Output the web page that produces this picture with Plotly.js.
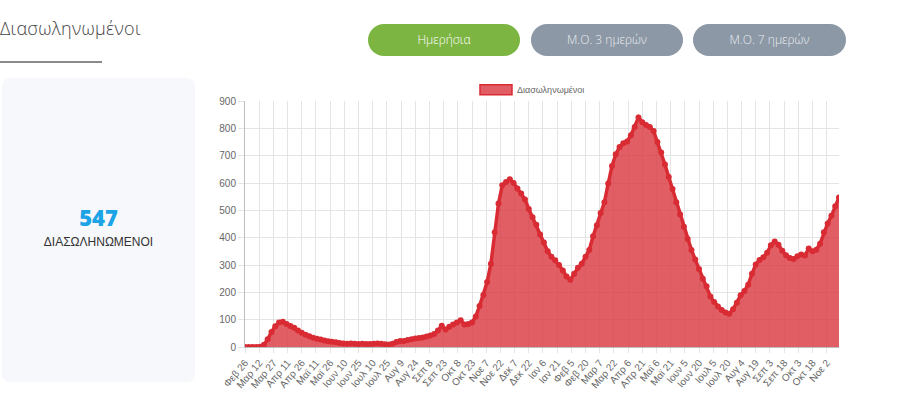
<!DOCTYPE html>
<html>
<head>
<meta charset="utf-8">
<script src="https://cdn.plot.ly/plotly-3.0.1.min.js"></script>
<style>
  html, body { margin: 0; padding: 0; background: #fff; width: 900px; height: 414px; overflow: hidden; }
  body { position: relative; font-family: "Open Sans", "Liberation Sans", sans-serif; }
  #title { position: absolute; left: 0; top: 16px; font-size: 18px; font-weight: 300; color: #444; letter-spacing: 0.3px; }
  #rule { position: absolute; left: 0; top: 61px; width: 102px; height: 2px; background: #8a8a8a; }
  .btn { position: absolute; top: 24px; height: 32px; border-radius: 16px; color: #fff; font-size: 12px; line-height: 32px; text-align: center; font-family: "Open Sans", sans-serif; font-weight: 300; }
  #b1 { left: 368px; width: 152px; background: #7db543; }
  #b2 { left: 531px; width: 152px; background: #8c98a5; color: #e9edf1; }
  #b3 { left: 693px; width: 153px; background: #8c98a5; color: #e9edf1; }
  #card { position: absolute; left: 2px; top: 78px; width: 193px; height: 304px; background: #f6f8fc; border-radius: 8px; }
  #num { position: absolute; left: 2px; width: 193px; top: 202px; text-align: center; font-size: 22px; font-weight: 800; color: #1ca4e6; font-family: "Open Sans", sans-serif; }
  #lbl { position: absolute; left: 2px; width: 193px; top: 235px; text-align: center; font-size: 12px; color: #333; font-family: "Liberation Sans", Arial, sans-serif; }
  #chart { position: absolute; left: 200px; top: 75px; width: 700px; height: 339px; }
</style>
</head>
<body>
<div id="title">Διασωληνωμένοι</div>
<div id="rule"></div>
<div class="btn" id="b1">Ημερήσια</div>
<div class="btn" id="b2">Μ.Ο. 3 ημερών</div>
<div class="btn" id="b3">Μ.Ο. 7 ημερών</div>
<div id="card"></div>
<div id="num">547</div>
<div id="lbl">ΔΙΑΣΩΛΗΝΩΜΕΝΟΙ</div>
<div id="chart"></div>
<script>
// Data: intubated patients, one reading every 4 days starting 26 Feb 2020 (day 0) to 15 Nov 2021 (day 628)
const seriesName = "Διασωληνωμένοι";
const startDay = 0;
const stepDays = 4;
const intubated = [
  0, 0, 0, 0, 1, 8, 28, 55, 76, 90,
  92, 84, 77, 70, 60, 52, 45, 39, 34, 30,
  27, 24, 21, 19, 17, 15, 13, 12, 13, 12,
  11, 12, 11, 11, 12, 13, 12, 10, 9, 12,
  18, 22, 22, 26, 28, 31, 33, 35, 38, 42,
  48, 60, 78, 64, 74, 82, 90, 98, 82, 84,
  90, 112, 150, 190, 238, 305, 420, 525, 592, 604,
  614, 600, 580, 562, 540, 505, 475, 447, 412, 382,
  350, 330, 317, 300, 280, 258, 246, 268, 290, 305,
  330, 355, 405, 445, 490, 530, 598, 662, 705, 732,
  745, 752, 775, 805, 840, 822, 812, 805, 790, 750,
  712, 668, 622, 578, 530, 485, 440, 395, 355, 320,
  285, 250, 222, 185, 165, 148, 135, 126, 122, 138,
  162, 189, 205, 228, 268, 302, 318, 328, 345, 372,
  386, 374, 352, 336, 326, 322, 332, 338, 335, 360,
  350, 356, 378, 420, 452, 480, 515, 547
];
const tickStepDays = 15;
const tickLabels = ["Φεβ 26","Μαρ 12","Μαρ 27","Απρ 11","Απρ 26","Μαϊ 11","Μαϊ 26","Ιουν 10","Ιουν 25","Ιουλ 10","Ιουλ 25","Αυγ 9","Αυγ 24","Σεπ 8","Σεπ 23","Οκτ 8","Οκτ 23","Νοε 7","Νοε 22","Δεκ 7","Δεκ 22","Ιαν 6","Ιαν 21","Φεβ 5","Φεβ 20","Μαρ 7","Μαρ 22","Απρ 6","Απρ 21","Μαϊ 6","Μαϊ 21","Ιουν 5","Ιουν 20","Ιουλ 5","Ιουλ 20","Αυγ 4","Αυγ 19","Σεπ 3","Σεπ 18","Οκτ 3","Οκτ 18","Νοε 2"];
const yTicks = [0, 100, 200, 300, 400, 500, 600, 700, 800, 900];

const xDays = intubated.map((_, i) => startDay + i * stepDays);
const tickVals = tickLabels.map((_, i) => i * tickStepDays);
const lastDay = xDays[xDays.length - 1];

const lineColor = "#d92b33";
const fillColor = "rgba(218,60,66,0.82)";

const trace = {
  x: xDays, y: intubated, name: seriesName,
  type: "scatter", mode: "lines+markers",
  fill: "tozeroy", fillcolor: fillColor,
  line: { color: lineColor, width: 3.5 },
  marker: { color: lineColor, size: 6 },
  hoverinfo: "skip"
};

const tickFont = { family: "Liberation Sans, Arial, sans-serif", size: 10, color: "#666" };

const layout = {
  width: 700, height: 339,
  margin: { l: 45, r: 61, t: 25.7, b: 67.3, pad: 0 },
  paper_bgcolor: "#fff", plot_bgcolor: "#fff",
  showlegend: false,
  xaxis: {
    range: [0, lastDay], tickmode: "array", tickvals: tickVals, ticktext: tickLabels,
    tickangle: -50, tickfont: tickFont,
    showgrid: true, gridcolor: "#e4e4e4", gridwidth: 1,
    ticks: "outside", ticklen: 5, tickcolor: "#e4e4e4",
    showline: true, linecolor: "#bdbdbd", zeroline: false, fixedrange: true
  },
  yaxis: {
    range: [0, 900], tickmode: "array", tickvals: yTicks,
    tickfont: tickFont,
    showgrid: true, gridcolor: "#e4e4e4", gridwidth: 1,
    ticks: "outside", ticklen: 6, tickcolor: "#e4e4e4",
    showline: true, linecolor: "#bdbdbd", zeroline: false, fixedrange: true
  },
  shapes: [
    { type: "rect", xref: "paper", yref: "paper", x0: 0.3956, x1: 0.4495, y0: 1.025, y1: 1.066,
      fillcolor: fillColor, line: { color: lineColor, width: 1.5 } }
  ],
  annotations: [
    { xref: "paper", yref: "paper", x: 0.455, y: 1.046, xanchor: "left", yanchor: "middle",
      text: seriesName, showarrow: false, font: { family: "Liberation Sans, Arial, sans-serif", size: 9, color: "#666" } }
  ]
};

Plotly.newPlot("chart", [trace], layout, { staticPlot: true, displayModeBar: false });
</script>
</body>
</html>
